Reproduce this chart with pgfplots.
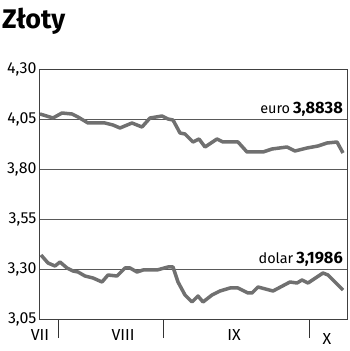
\documentclass[border=0pt]{standalone}
\usepackage{fontspec}
\setmainfont{Fira Sans}
\usepackage{pgfplots}
\pgfplotsset{compat=1.18}
\definecolor{linegray}{HTML}{707070}
\begin{document}
\begin{tikzpicture}[x=1bp,y=1bp]
\path[use as bounding box] (0,0) rectangle (350,351);
\node[anchor=base west, font=\fontsize{27}{30}\selectfont\bfseries, inner sep=0] at (2,323) {Złoty};
\begin{axis}[at={(39bp,32bp)}, anchor=south west, scale only axis,
  width=308bp, height=250bp,
  xmin=39, xmax=347, ymin=3.05, ymax=4.30,
  ytick={3.05,3.30,3.55,3.80,4.05,4.30},
  ymajorgrids, grid style={black!65, line width=0.7pt},
  axis line style={black!75, line width=0.8pt},
  xtick={58,163,309}, xticklabels={}, xtick pos=bottom,
  xtick align=outside, major tick length=19bp,
  xtick style={black!80, line width=0.8pt},
  ytick style={draw=none},
  yticklabel style={font=\fontsize{16}{16}\selectfont, xshift=1bp},
  /pgf/number format/.cd, use comma, fixed, fixed zerofill, precision=2, assume math mode=true,
  /pgfplots/.cd, clip=false]
\addplot[linegray, line width=3.5bp, line join=round] coordinates {
(40,4.075) (53,4.055) (62,4.08) (72,4.075) (78,4.06) (88,4.03) (105,4.03) (113,4.02)
(120,4.005) (132,4.03) (142,4.01) (150,4.055) (162,4.065) (168,4.05) (173,4.045)
(180,3.98) (185,3.975) (193,3.935) (199,3.95) (205,3.91) (217,3.95) (223,3.935)
(238,3.935) (247,3.885) (263,3.885) (272,3.90) (287,3.91) (295,3.89) (307,3.905)
(318,3.915) (327,3.93) (337,3.935) (343,3.88)};
\addplot[linegray, line width=3.5bp, line join=round] coordinates {
(41,3.37) (48,3.33) (55,3.315) (60,3.335) (67,3.305) (73,3.29) (78,3.285) (85,3.265)
(93,3.255) (102,3.235) (108,3.27) (117,3.265) (125,3.305) (130,3.305) (137,3.285)
(143,3.295) (157,3.295) (168,3.31) (173,3.31) (178,3.235) (185,3.17) (192,3.135)
(198,3.165) (203,3.135) (212,3.17) (220,3.19) (230,3.205) (238,3.205) (248,3.18)
(252,3.18) (258,3.21) (273,3.19) (290,3.235) (297,3.23) (302,3.245) (308,3.23)
(323,3.28) (328,3.27) (338,3.22) (343,3.195)};
\node[anchor=base east, inner sep=0, font=\fontsize{14.5}{14}\selectfont] at (axis cs:343,4.05) [yshift=5.5bp] {euro\hspace{3bp}\textbf{\fontsize{16.5}{16}\selectfont 3,8838}};
\node[anchor=base east, inner sep=0, font=\fontsize{14.5}{14}\selectfont] at (axis cs:343,3.30) [yshift=5.5bp] {dolar\hspace{3bp}\textbf{\fontsize{16.5}{16}\selectfont 3,1986}};
\end{axis}
\node[font=\fontsize{16}{16}\selectfont] at (40,16) {VII};
\node[font=\fontsize{16}{16}\selectfont] at (123,16) {VIII};
\node[font=\fontsize{16}{16}\selectfont] at (234,16) {IX};
\node[font=\fontsize{16}{16}\selectfont] at (327,12) {X};
\end{tikzpicture}
\end{document}
